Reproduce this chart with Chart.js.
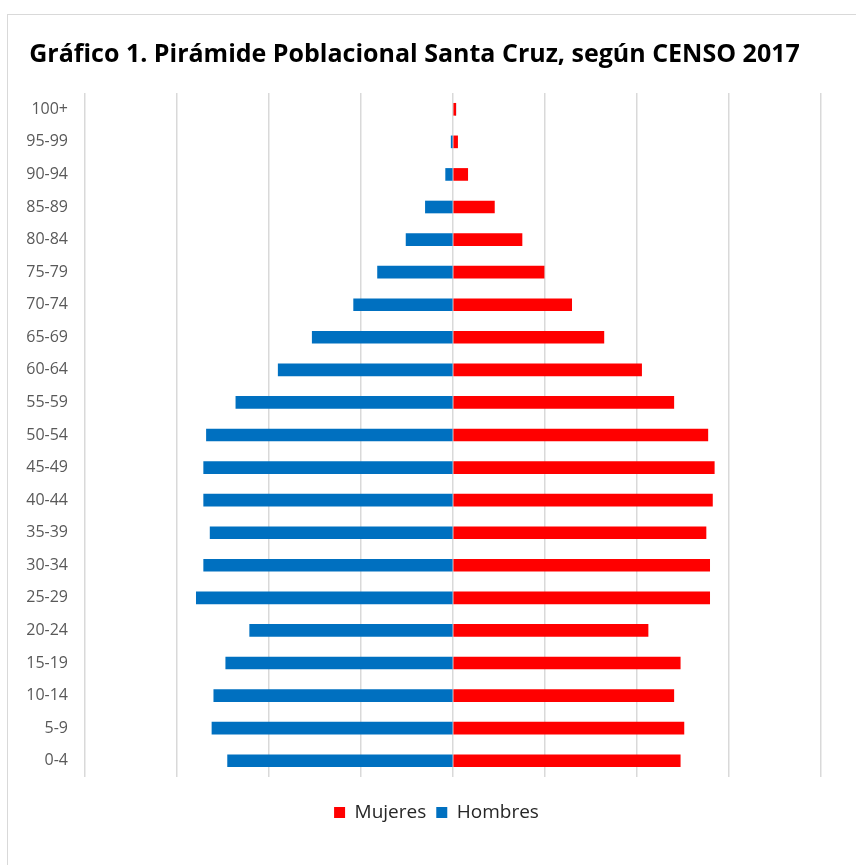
<!DOCTYPE html>
<html>
<head>
<meta charset="utf-8">
<script src="https://cdn.jsdelivr.net/npm/chart.js@4"></script>
<style>
  body { margin: 0; background: #fff; overflow: hidden; }
  #box {
    position: absolute; left: 7px; top: 14px;
    width: 849px; height: 851px;
    border: 1px solid #d9d9d9;
  }
</style>
</head>
<body>
<div id="box"><canvas id="myChart"></canvas></div>
<script>
// grupos de edad, de 0-4 (abajo) a 100+ (arriba)
const ageGroups = ['0-4', '5-9', '10-14', '15-19', '20-24', '25-29', '30-34', '35-39', '40-44',
  '45-49', '50-54', '55-59', '60-64', '65-69', '70-74', '75-79', '80-84', '85-89', '90-94', '95-99', '100+'];

const mujeres = [247, 251, 240, 247, 212, 279, 279, 275, 282, 284, 277, 240, 205, 164, 129, 99, 75, 45, 16, 5, 3];
const hombres = [245, 262, 260, 247, 221, 279, 271, 264, 271, 271, 268, 236, 190, 153, 108, 82, 51, 30, 8, 2, 0];

const xMin = -400;
const xMax = 400;
const xStep = 100;

Chart.defaults.font.family = '"Open Sans", sans-serif';

// la leyenda va un poco mas a la derecha que el titulo
const shiftLegend = {
  id: 'shiftLegend',
  afterLayout(chart) {
    chart.legend.left += 22;
    chart.legend.right += 22;
  }
};

const ctx = document.getElementById('myChart');

new Chart(ctx, {
  type: 'bar',
  data: {
    labels: ageGroups,
    datasets: [{
      label: 'Mujeres',
      data: mujeres,
      backgroundColor: '#FF0000',
      barThickness: 12
    }, {
      label: 'Hombres',
      data: hombres.map(v => -v),
      backgroundColor: '#0070C0',
      barThickness: 12
    }]
  },
  options: {
    indexAxis: 'y',
    responsive: true,
    maintainAspectRatio: false,
    animation: false,
    layout: {
      padding: { left: 0, right: 36, top: 3, bottom: 34 }
    },
    plugins: {
      title: {
        display: true,
        text: 'Gráfico 1. Pirámide Poblacional Santa Cruz, según CENSO 2017',
        color: '#000',
        font: { size: 25, weight: 'bold' },
        padding: { top: 22, bottom: 23 }
      },
      legend: {
        position: 'bottom',
        labels: {
          boxWidth: 11,
          boxHeight: 11,
          padding: 10,
          color: '#262626',
          font: { size: 19 }
        }
      },
      tooltip: {
        callbacks: {
          label: item => item.dataset.label + ': ' + Math.abs(item.raw)
        }
      }
    },
    scales: {
      x: {
        stacked: true,
        min: xMin,
        max: xMax,
        ticks: { display: false, stepSize: xStep },
        grid: { color: '#d9d9d9', lineWidth: 1.5, drawTicks: false },
        border: { display: false },
        afterFit: scale => { scale.height = 16; }
      },
      y: {
        stacked: true,
        reverse: true,
        grid: { display: false, drawTicks: false },
        border: { display: false },
        ticks: { color: '#595959', font: { size: 16 }, padding: 17 },
        afterFit: scale => { scale.width = 77; }
      }
    }
  },
  plugins: [shiftLegend]
});
</script>
</body>
</html>
